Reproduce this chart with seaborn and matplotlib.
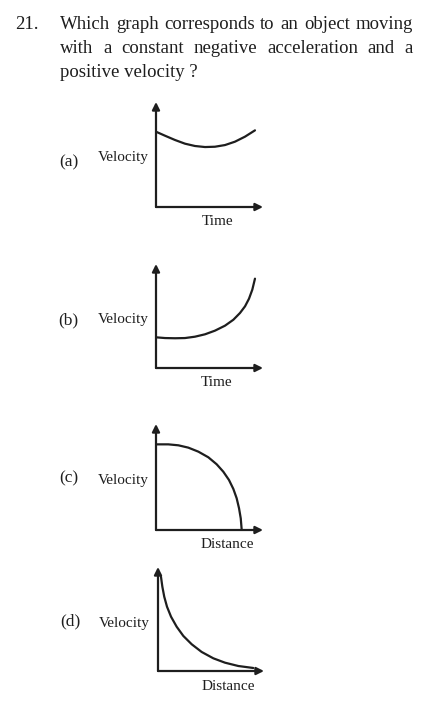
import matplotlib
matplotlib.use("Agg")
import matplotlib.pyplot as plt
import seaborn as sns

sns.set_theme(style="white")
plt.rcParams['font.family'] = ['Liberation Serif', 'DejaVu Serif']

INK = '#1e1e1e'

# question text
question_no = "21."
question_lines = [
    "Which graph corresponds to an object moving",
    "with a constant negative acceleration and a",
    "positive velocity ?",
]

# option labels
option_tags = ["(a)", "(b)", "(c)", "(d)"]
y_labels = ["Velocity", "Velocity", "Velocity", "Velocity"]
x_labels = ["Time", "Time", "Distance", "Distance"]

# curves (axis units 0..10)
a_x = [0, 0.84, 1.78, 2.71, 3.64, 4.58, 5.51, 6.45, 7.38, 8.32, 9.25]
a_y = [7.17, 6.79, 6.38, 6.03, 5.81, 5.71, 5.74, 5.90, 6.22, 6.70, 7.30]

b_x = [0, 0.84, 1.78, 2.71, 3.64, 4.58, 5.51, 6.45, 7.23, 7.85, 8.32, 8.69, 9.0, 9.25]
b_y = [2.95, 2.88, 2.86, 2.88, 3.01, 3.24, 3.59, 4.07, 4.64, 5.29, 5.93, 6.66, 7.53, 8.59]

c_x = [0, 1.15, 2.09, 3.02, 3.96, 4.89, 5.67, 6.29, 6.82, 7.23, 7.54, 7.76, 7.92, 8.01]
c_y = [8.08, 8.08, 7.99, 7.77, 7.39, 6.86, 6.20, 5.50, 4.72, 3.87, 2.99, 2.05, 1.10, 0.0]

d_x = [0.28, 0.41, 0.59, 0.85, 1.23, 1.76, 2.39, 3.18, 4.12, 5.22, 6.32, 7.58, 8.99]
d_y = [9.07, 8.11, 7.14, 6.18, 5.22, 4.26, 3.37, 2.57, 1.83, 1.22, 0.80, 0.48, 0.29]

curves = [(a_x, a_y), (b_x, b_y), (c_x, c_y), (d_x, d_y)]

W, H = 430, 718
fig = plt.figure(figsize=(W / 100, H / 100), dpi=100)
fig.patch.set_facecolor('white')


def fx(px):
    return px / W


def fy(py):
    return 1 - py / H


# --- question header ---
fig.text(fx(15), fy(29), question_no, fontsize=13.5, color=INK, va='baseline')
renderer = fig.canvas.get_renderer()
left, right = 60, 413
for i, line in enumerate(question_lines):
    base = fy(29 + i * 24)
    words = line.split()
    if i < len(question_lines) - 1:
        # justify full lines
        arts = [fig.text(0, base, w, fontsize=13.5, color=INK, va='baseline') for w in words]
        widths = [a.get_window_extent(renderer).width for a in arts]
        gap = (right - left - sum(widths)) / (len(words) - 1)
        x = left
        for a, wd in zip(arts, widths):
            a.set_x(fx(x))
            x += wd + gap
    else:
        fig.text(fx(left), base, line, fontsize=13.5, color=INK, va='baseline')

# --- panels: (left, right, top, bottom) in pixels ---
boxes = [(156, 263, 102, 207), (156, 263, 264, 368), (156, 263, 424, 530), (158, 264, 567, 671)]
tag_pos = [(68.5, 162), (68.5, 320), (68.5, 478), (70, 621)]
ylab_pos = [(123, 158), (123, 319.5), (123, 480.5), (124.5, 623)]
xlab_pos = [(217.5, 221.5), (217, 382.5), (227, 544), (228.5, 687)]

for k, (l, r, t, b) in enumerate(boxes):
    ax = fig.add_axes([fx(l), fy(b), (r - l) / W, (b - t) / H])
    ax.set_xlim(0, 10)
    ax.set_ylim(0, 10)
    ax.axis('off')
    cx, cy = curves[k]
    sns.lineplot(x=cx, y=cy, ax=ax, color=INK, lw=1.6, sort=False, estimator=None)
    for end in [(1, 0), (0, 1)]:
        ax.annotate("", xy=end, xytext=(0, 0), xycoords='axes fraction',
                    textcoords='axes fraction',
                    arrowprops=dict(arrowstyle='-|>', lw=1.6, color=INK,
                                    mutation_scale=11, shrinkA=0, shrinkB=0))
    fig.text(fx(tag_pos[k][0]), fy(tag_pos[k][1]), option_tags[k], fontsize=12.5,
             color=INK, ha='center', va='center')
    fig.text(fx(ylab_pos[k][0]), fy(ylab_pos[k][1]), y_labels[k], fontsize=11,
             color=INK, ha='center', va='center')
    fig.text(fx(xlab_pos[k][0]), fy(xlab_pos[k][1]), x_labels[k], fontsize=11,
             color=INK, ha='center', va='center')

fig.savefig("out.png", dpi=100, facecolor='white')
